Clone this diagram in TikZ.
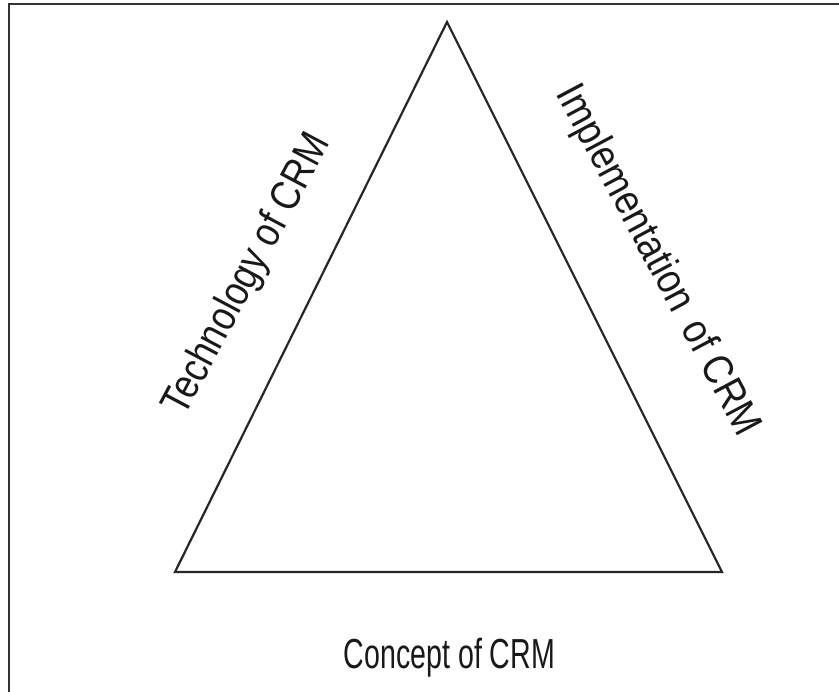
\documentclass[tikz,border=0pt]{standalone}
\usepackage{fontspec}
\newfontfamily\arialfont{Liberation Sans}
\begin{document}
\begin{tikzpicture}[x=1pt,y=-1pt,
  edge/.style={line width=2.2pt, draw=black!85, line join=miter},
  frameline/.style={line width=2pt, draw=black!80},
  lbl/.style={font=\arialfont\fontsize{42}{48}\selectfont, inner sep=0pt, text=black!90}]
\useasboundingbox (0,0) rectangle (839,692);
\fill[white] (0,0) rectangle (839,692);
\draw[frameline] (9,692) -- (9,4) -- (839,4);
\coordinate (apex) at (447,22);
\coordinate (bl) at (175,572);
\coordinate (br) at (722,572);
\draw[edge] (apex) -- (bl) -- (br) -- cycle;
\node[lbl, transform shape, rotate=62, xscale=0.85] (tech) at (248,275) {Technology of CRM};
\node[lbl, transform shape, rotate=-62, xscale=0.87] (impl) at (657,261) {Implementation\, of CRM};
\node[lbl, transform shape, anchor=base, xscale=0.68] (conc) at (449.5,668) {Concept of CRM};
\end{tikzpicture}
\end{document}
